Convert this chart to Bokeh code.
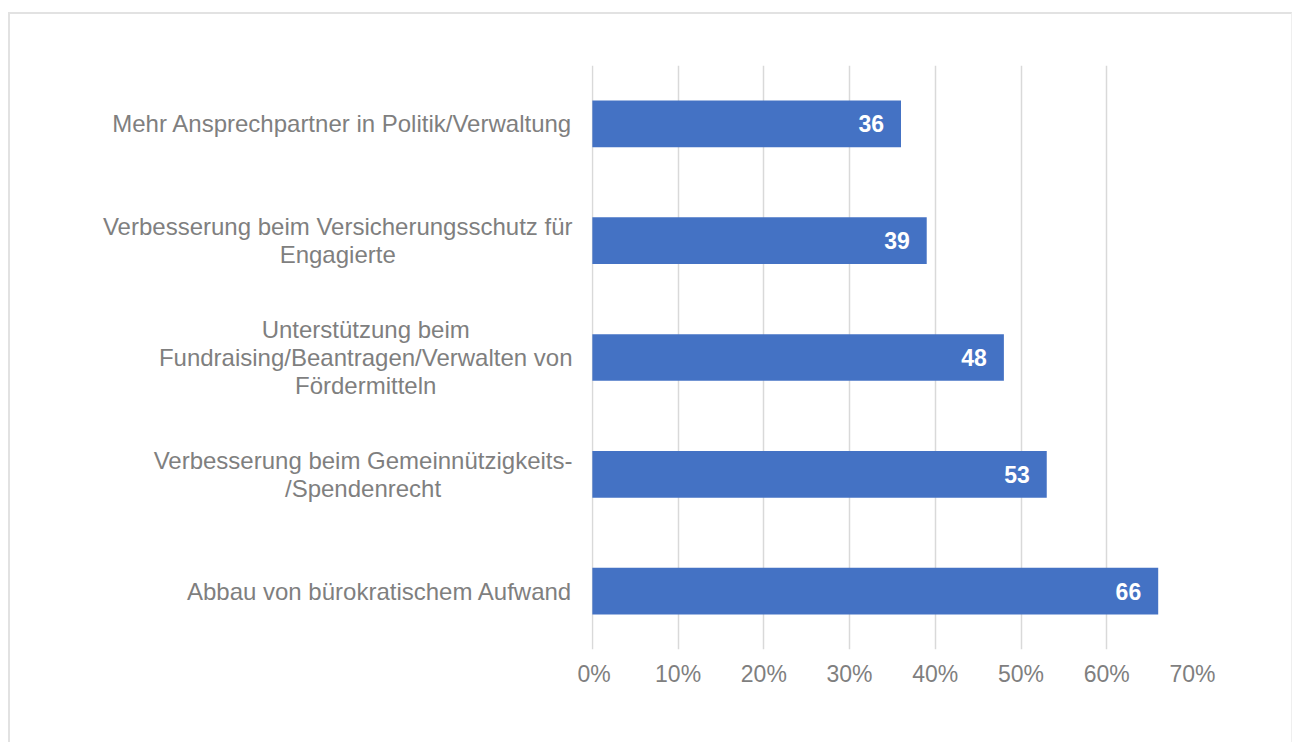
from bokeh.plotting import figure
from bokeh.layouts import row
from bokeh.models import FactorRange, Range1d, FixedTicker, PrintfTickFormatter, ColumnDataSource
from bokeh.core.properties import value
from bokeh.embed import file_html
from bokeh.resources import INLINE

categories = [
    "Mehr Ansprechpartner in Politik/Verwaltung",
    "Verbesserung beim Versicherungsschutz für\nEngagierte",
    "Unterstützung beim\nFundraising/Beantragen/Verwalten von\nFördermitteln",
    "Verbesserung beim Gemeinnützigkeits-\n/Spendenrecht",
    "Abbau von bürokratischem Aufwand",
]
values = [36, 39, 48, 53, 66]
x_ticks = [0, 10, 20, 30, 40, 50, 60, 70]

LEFT_W = 567
GAP = 14
TOP = 51
BOTTOM = 93

yr = FactorRange(factors=list(reversed(categories)))
lab_range = Range1d(0, LEFT_W)

src = ColumnDataSource(dict(
    cat=categories,
    val=values,
    lbl=[str(v) for v in values],
    lx=[lab_range.end] * len(values),
))

# label panel
lf = figure(
    width=LEFT_W, height=728, y_range=yr, x_range=lab_range,
    output_backend="svg", toolbar_location=None,
    min_border_left=0, min_border_right=0,
    min_border_top=TOP, min_border_bottom=BOTTOM,
)
lf.outline_line_color = None
lf.axis.visible = False
lf.grid.grid_line_color = None
lf.text(x="lx", y="cat", text="cat", source=src, x_offset=-5,
        anchor="center_right", text_align="center", text_baseline="middle",
        text_color="#7f7f7f", text_font=value("Liberation Sans"),
        text_font_size="24px", text_line_height=1.04)

# bar panel
p = figure(
    width=1281 - LEFT_W, height=728,
    y_range=yr, x_range=Range1d(-0.1, 70),
    output_backend="svg", toolbar_location=None,
    min_border_left=GAP, min_border_right=99,
    min_border_top=TOP, min_border_bottom=BOTTOM,
)
p.outline_line_color = None

p.hbar(y="cat", right="val", left=0, height=0.4, source=src,
       fill_color="#4472C4", line_color=None)

p.text(x="val", y="cat", text="lbl", source=src, x_offset=-17,
       text_align="right", text_baseline="middle",
       text_color="white", text_font=value("Liberation Sans"),
       text_font_style="bold", text_font_size="23px")

p.yaxis.visible = False
p.ygrid.grid_line_color = None
p.xgrid.grid_line_color = "#d9d9d9"
p.xgrid.grid_line_width = 1.5
p.xgrid.ticker = FixedTicker(ticks=x_ticks)

ax = p.xaxis[0]
ax.ticker = FixedTicker(ticks=x_ticks)
ax.formatter = PrintfTickFormatter(format="%d%%")
ax.axis_line_color = None
ax.major_tick_line_color = None
ax.minor_tick_line_color = None
ax.major_label_text_color = "#7f7f7f"
ax.major_label_text_font = "Liberation Sans"
ax.major_label_text_font_size = "23px"
ax.major_label_standoff = 5

layout = row(lf, p, styles={
    "margin-top": "12px",
    "margin-left": "8px",
    "border-top": "2px solid #e2e2e2",
    "border-left": "2px solid #e2e2e2",
    "border-right": "1px solid #efefef",
})

open("out.html", "w").write(file_html(layout, INLINE))
